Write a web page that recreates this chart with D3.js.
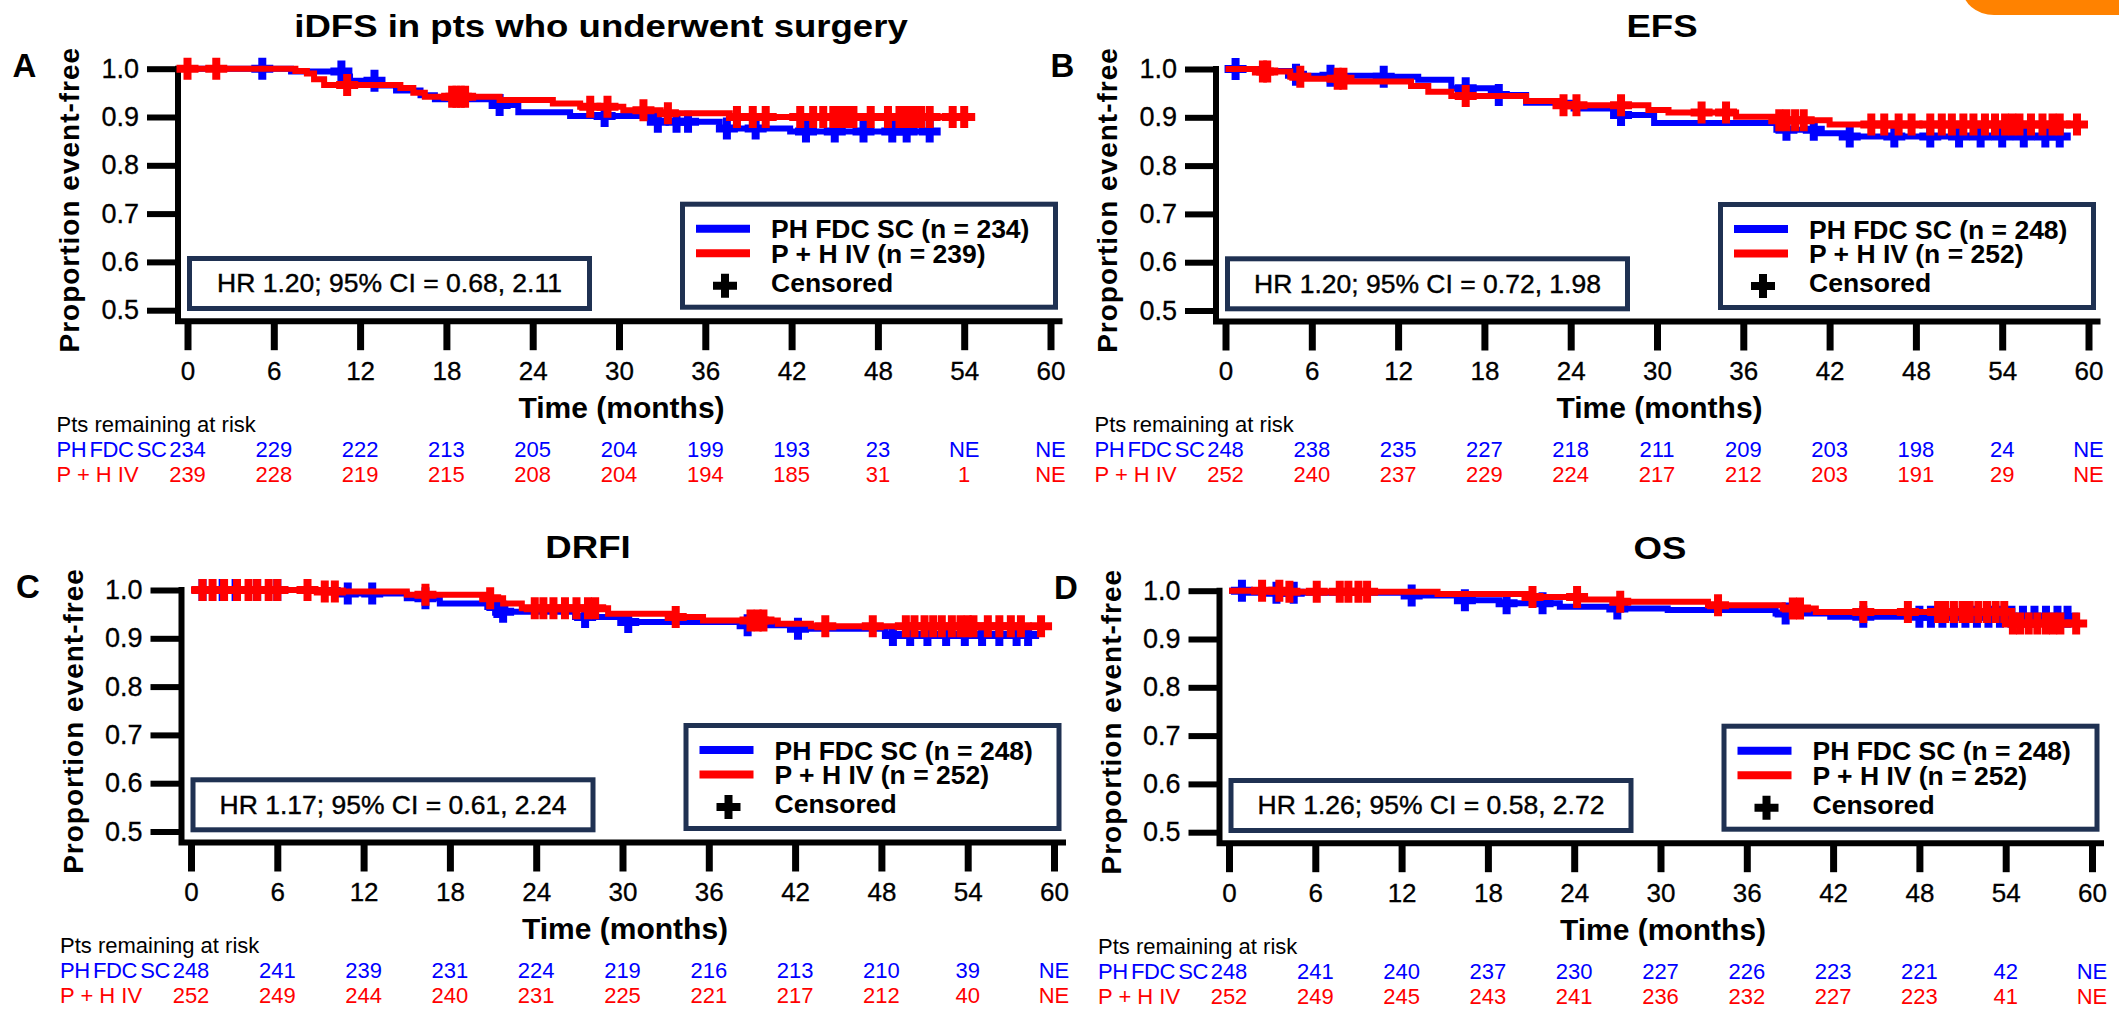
<!DOCTYPE html>
<html>
<head>
<meta charset="UTF-8">
<style>
body { margin: 0; padding: 0; background: #ffffff; }
svg { display: block; font-family: "Liberation Sans", Arial, sans-serif; }
</style>
</head>
<body>
<svg id="chart"></svg>
<script src="https://d3js.org/d3.v7.min.js"></script>
<script>

const W = 2119, H = 1011;

// ticks and labels
const months = [0, 6, 12, 18, 24, 30, 36, 42, 48, 54, 60];
const propTicks = [0.5, 0.6, 0.7, 0.8, 0.9, 1.0];
const letters = ["A", "B", "C", "D"];
const titles = ["iDFS in pts who underwent surgery", "EFS", "DRFI", "OS"];
const hrTexts = [
  "HR 1.20; 95% CI = 0.68, 2.11",
  "HR 1.20; 95% CI = 0.72, 1.98",
  "HR 1.17; 95% CI = 0.61, 2.24",
  "HR 1.26; 95% CI = 0.58, 2.72"
];
const armSC = "PH FDC SC", armIV = "P + H IV";
const nSC = [234, 248, 248, 248];
const nIV = [239, 252, 252, 252];

// numbers at risk
const riskSC_A = [234, 229, 222, 213, 205, 204, 199, 193, 23, "NE", "NE"];
const riskIV_A = [239, 228, 219, 215, 208, 204, 194, 185, 31, 1, "NE"];
const riskSC_B = [248, 238, 235, 227, 218, 211, 209, 203, 198, 24, "NE"];
const riskIV_B = [252, 240, 237, 229, 224, 217, 212, 203, 191, 29, "NE"];
const riskSC_C = [248, 241, 239, 231, 224, 219, 216, 213, 210, 39, "NE"];
const riskIV_C = [252, 249, 244, 240, 231, 225, 221, 217, 212, 40, "NE"];
const riskSC_D = [248, 241, 240, 237, 230, 227, 226, 223, 221, 42, "NE"];
const riskIV_D = [252, 249, 245, 243, 241, 236, 232, 227, 223, 41, "NE"];

// KM steps [month, proportion]; last pair = end of follow-up
const stepsSC_A = [[0,1],[7.2,0.994],[10.8,0.984],[11.3,0.975],[13.3,0.965],[14.5,0.955],[16.2,0.945],[17.2,0.937],[21.7,0.925],[23,0.91],[26.6,0.902],[32.4,0.89],[37,0.876],[41.9,0.87],[51.7,0.87]];
const censSC_A = [5.2, 10.7, 13, 21.7, 29, 32.7, 34, 34.8, 37.5, 39.5, 43, 45, 47, 49, 50, 51.6];
const stepsIV_A = [[0,1],[7.5,0.995],[8.3,0.99],[8.8,0.978],[9.5,0.966],[14.8,0.96],[15.7,0.95],[16.5,0.942],[21.7,0.935],[25.4,0.928],[27.3,0.921],[30.3,0.914],[32.9,0.908],[37.7,0.9],[54,0.9]];
const censIV_A = [0, 2, 11.1, 18.4, 18.7, 19, 19.3, 28, 29.2, 31.7, 33.4, 38.2, 39.3, 40.2, 42.6, 43.5, 44.2, 44.9, 45.4, 45.9, 46.3, 47.5, 48.7, 49.5, 50, 50.5, 51, 51.6, 53.2, 54];

const stepsSC_B = [[0,1],[2.6,0.996],[4.8,0.988],[5.4,0.986],[10.6,0.984],[13.4,0.978],[15.7,0.96],[19,0.946],[20.9,0.93],[24.2,0.918],[27.5,0.905],[29.8,0.888],[38.3,0.874],[41.1,0.867],[43,0.86],[58,0.86]];
const censSC_B = [0.7, 4.9, 7.3, 11, 16.7, 19, 27.5, 39, 40.9, 43.4, 46.5, 49, 51, 52.5, 54, 55.5, 57, 58];
const stepsIV_B = [[0,1],[2.1,0.995],[4.5,0.984],[5.6,0.98],[8.5,0.974],[12.9,0.965],[14.1,0.953],[15.7,0.944],[20.9,0.934],[23.3,0.925],[29.4,0.915],[30.8,0.91],[35.5,0.901],[38.3,0.894],[42,0.885],[59.2,0.885]];
const censIV_B = [2.6, 2.9, 5.2, 7.8, 8.2, 16.7, 23.5, 24.4, 27.5, 33.1, 34.8, 38.5, 39, 39.6, 40.2, 44.9, 45.8, 46.8, 47.7, 49, 49.8, 50.5, 51.3, 52, 52.8, 53.5, 54.2, 54.7, 55.2, 56, 56.8, 57.5, 58, 59.2];

const stepsSC_C = [[0,1],[10.2,0.993],[15,0.983],[17.3,0.972],[20.6,0.965],[21.5,0.955],[26.7,0.944],[30.4,0.934],[38.4,0.927],[42.2,0.92],[48.3,0.907],[58.2,0.907]];
const censSC_C = [0.8, 2.2, 3.1, 4.6, 6, 10.9, 12.6, 16.3, 21.3, 21.7, 27.4, 30.4, 38.7, 42.2, 48.8, 50, 51.2, 52.5, 53.8, 55, 56.2, 57.4, 58.2];
const stepsIV_C = [[0,1],[9,0.997],[15,0.99],[20.6,0.983],[21.7,0.972],[23,0.962],[29,0.951],[33.7,0.944],[35.6,0.937],[40.8,0.93],[43.1,0.925],[59.1,0.925]];
const censIV_C = [0.8, 1.5, 2.3, 3.2, 4, 4.6, 5.4, 6, 8.1, 9.3, 10, 16.3, 20.8, 23.9, 24.5, 25.2, 26, 26.8, 27.6, 28.1, 33.7, 38.9, 39.4, 39.8, 44.1, 47.4, 49.7, 50.3, 51, 51.6, 52.2, 52.9, 53.5, 54, 54.4, 55.4, 56.2, 57, 57.7, 59.1];

const stepsSC_D = [[0,1],[1,0.996],[12.7,0.99],[16.4,0.98],[18.8,0.974],[23,0.967],[26.8,0.963],[30.5,0.96],[38,0.953],[41.8,0.946],[58.3,0.946]];
const censSC_D = [0.9, 3.3, 4.5, 12.7, 16.4, 19.3, 21.8, 27, 38.7, 44.1, 48, 48.8, 49.6, 50.4, 51.2, 52, 52.8, 53.6, 54.4, 55.2, 56, 56.8, 57.6, 58.3];
const stepsIV_D = [[0,1],[4.2,0.998],[14.5,0.993],[21.1,0.987],[24.4,0.982],[27.2,0.977],[33.3,0.97],[38.5,0.963],[40.8,0.956],[54,0.932],[58.9,0.932]];
const censIV_D = [2.3, 3.5, 4.2, 6.1, 7.7, 8.3, 9, 9.6, 21.1, 24.2, 27.2, 34, 39.2, 39.7, 44.1, 47.2, 49.3, 49.8, 50.4, 51, 51.5, 52.1, 52.7, 53.3, 53.9, 54.5, 55, 55.6, 56.2, 56.8, 57.3, 57.8, 58.9];

const panels = [
  { sc: stepsSC_A, scC: censSC_A, iv: stepsIV_A, ivC: censIV_A, rSC: riskSC_A, rIV: riskIV_A },
  { sc: stepsSC_B, scC: censSC_B, iv: stepsIV_B, ivC: censIV_B, rSC: riskSC_B, rIV: riskIV_B },
  { sc: stepsSC_C, scC: censSC_C, iv: stepsIV_C, ivC: censIV_C, rSC: riskSC_C, rIV: riskIV_C },
  { sc: stepsSC_D, scC: censSC_D, iv: stepsIV_D, ivC: censIV_D, rSC: riskSC_D, rIV: riskIV_D }
];

// where each panel sits: x of month 0, y of 1.0, title centre
const layout = [
  { x0: 187.5, y1: 68.7, tx: 601 },
  { x0: 1225.5, y1: 69, tx: 1662 },
  { x0: 191, y1: 590, tx: 588 },
  { x0: 1229, y1: 590.7, tx: 1660 }
];

const blue = "#0000ff", red = "#ff0000", navy = "#1f3152";
const plotW = 863, plotH = 241.5;
const plus = "M-11,0H11M0,-11V11";

let svg = d3.select("#chart").attr("width", W).attr("height", H);

svg.append("rect").attr("width", W).attr("height", H).attr("fill", "#fff");

// orange tab in the corner
svg.append("rect")
  .attr("x", 1962).attr("y", -40)
  .attr("width", 220).attr("height", 55)
  .attr("rx", 32)
  .attr("fill", "#ff8200");

function survAt(steps, t) {
  let s = steps[0][1];
  steps.forEach(d => { if (d[0] <= t) s = d[1]; });
  return s;
}

panels.forEach((p, i) => {
  const L = layout[i];
  const x = d3.scaleLinear().domain([0, 60]).range([L.x0, L.x0 + plotW]);
  const y = d3.scaleLinear().domain([0.5, 1]).range([L.y1 + plotH, L.y1]);
  const g = svg.append("g");
  const axisX = L.x0 - 9.5;
  const axisY = L.y1 + 252.5;

  // y axis
  const ya = g.append("g")
    .attr("transform", `translate(${axisX},0)`)
    .call(d3.axisLeft(y).tickValues(propTicks).tickSize(31).tickPadding(8).tickFormat(d3.format(".1f")));
  ya.select(".domain").remove();
  ya.selectAll(".tick line").attr("stroke", "#000").attr("stroke-width", 6);
  ya.selectAll(".tick text").attr("font-size", 27).attr("fill", "#000")
    .attr("stroke", "#000").attr("stroke-width", 0.3)
    .attr("font-family", "Liberation Sans, Arial, sans-serif");

  // x axis
  const xa = g.append("g")
    .attr("transform", `translate(0,${axisY})`)
    .call(d3.axisBottom(x).tickValues(months).tickSize(29).tickPadding(11));
  xa.select(".domain").remove();
  xa.selectAll(".tick line").attr("stroke", "#000").attr("stroke-width", 7);
  xa.selectAll(".tick text").attr("font-size", 26).attr("fill", "#000")
    .attr("stroke", "#000").attr("stroke-width", 0.3)
    .attr("font-family", "Liberation Sans, Arial, sans-serif");

  g.append("path")
    .attr("d", `M${axisX},${L.y1 - 3}V${axisY}H${L.x0 + plotW + 12}`)
    .attr("fill", "none").attr("stroke", "#000").attr("stroke-width", 6);

  // labels
  g.append("text")
    .attr("transform", `translate(${L.tx},${L.y1 - 32}) scale(1.18,1)`)
    .attr("text-anchor", "middle").attr("font-size", 31).attr("font-weight", "bold")
    .text(titles[i]);
  g.append("text")
    .attr("x", L.x0 - 175).attr("y", L.y1 + 8)
    .attr("font-size", 33).attr("font-weight", "bold")
    .text(letters[i]);
  g.append("text")
    .attr("transform", `translate(${L.x0 - 108.5},${L.y1 + 131}) rotate(-90)`)
    .attr("text-anchor", "middle").attr("font-size", 28).attr("font-weight", "bold")
    .attr("letter-spacing", 1)
    .text("Proportion event-free");
  g.append("text")
    .attr("x", L.x0 + 434).attr("y", L.y1 + 349)
    .attr("text-anchor", "middle").attr("font-size", 30).attr("font-weight", "bold")
    .text("Time (months)");

  // curves
  const line = d3.line().x(d => x(d[0])).y(d => y(d[1])).curve(d3.curveStepAfter);
  [[p.sc, p.scC, blue], [p.iv, p.ivC, red]].forEach(([steps, cens, col]) => {
    g.append("path")
      .attr("d", line(steps))
      .attr("fill", "none").attr("stroke", col).attr("stroke-width", 6);
    g.selectAll(null)
      .data(cens)
      .enter()
      .append("path")
      .attr("d", plus)
      .attr("transform", d => `translate(${x(d)},${y(survAt(steps, d))})`)
      .attr("fill", "none").attr("stroke", col).attr("stroke-width", 8);
  });

  // HR box
  g.append("rect")
    .attr("x", L.x0 + 2).attr("y", L.y1 + 189.8)
    .attr("width", 400).attr("height", 50)
    .attr("fill", "#fff").attr("stroke", navy).attr("stroke-width", 5);
  g.append("text")
    .attr("x", L.x0 + 202).attr("y", L.y1 + 223.5)
    .attr("text-anchor", "middle").attr("font-size", 26.5)
    .attr("stroke", "#000").attr("stroke-width", 0.4)
    .text(hrTexts[i]);

  // legend
  g.append("rect")
    .attr("x", L.x0 + 495).attr("y", L.y1 + 135.5)
    .attr("width", 373).attr("height", 103)
    .attr("fill", "#fff").attr("stroke", navy).attr("stroke-width", 5);
  const leg = [
    { col: blue, txt: `${armSC} (n = ${nSC[i]})`, ly: 160, ty: 169.5 },
    { col: red, txt: `${armIV} (n = ${nIV[i]})`, ly: 184.5, ty: 194 }
  ];
  leg.forEach(e => {
    g.append("line")
      .attr("x1", L.x0 + 508.5).attr("x2", L.x0 + 562.5)
      .attr("y1", L.y1 + e.ly).attr("y2", L.y1 + e.ly)
      .attr("stroke", e.col).attr("stroke-width", 8);
    g.append("text")
      .attr("x", L.x0 + 583.5).attr("y", L.y1 + e.ty)
      .attr("font-size", 26.5).attr("font-weight", "bold")
      .text(e.txt);
  });
  g.append("path")
    .attr("d", "M-12,0H12M0,-12V12")
    .attr("transform", `translate(${L.x0 + 537.5},${L.y1 + 217})`)
    .attr("fill", "none").attr("stroke", "#000").attr("stroke-width", 8);
  g.append("text")
    .attr("x", L.x0 + 583.5).attr("y", L.y1 + 223)
    .attr("font-size", 26.5).attr("font-weight", "bold")
    .text("Censored");

  // at-risk table
  g.append("text")
    .attr("x", L.x0 - 131).attr("y", L.y1 + 363)
    .attr("font-size", 22).text("Pts remaining at risk");
  [[armSC, p.rSC, blue, 388, -2.5], [armIV, p.rIV, red, 413, 0]].forEach(([lab, vals, col, dy, ws]) => {
    g.append("text")
      .attr("x", L.x0 - 131).attr("y", L.y1 + dy)
      .attr("font-size", 22).attr("fill", col)
      .attr("word-spacing", ws).attr("letter-spacing", ws ? -0.4 : 0)
      .text(lab);
    g.selectAll(null)
      .data(vals)
      .enter()
      .append("text")
      .attr("x", (d, k) => x(months[k]))
      .attr("y", L.y1 + dy)
      .attr("text-anchor", "middle").attr("font-size", 22).attr("fill", col)
      .text(d => d);
  });
});

</script>
</body>
</html>
